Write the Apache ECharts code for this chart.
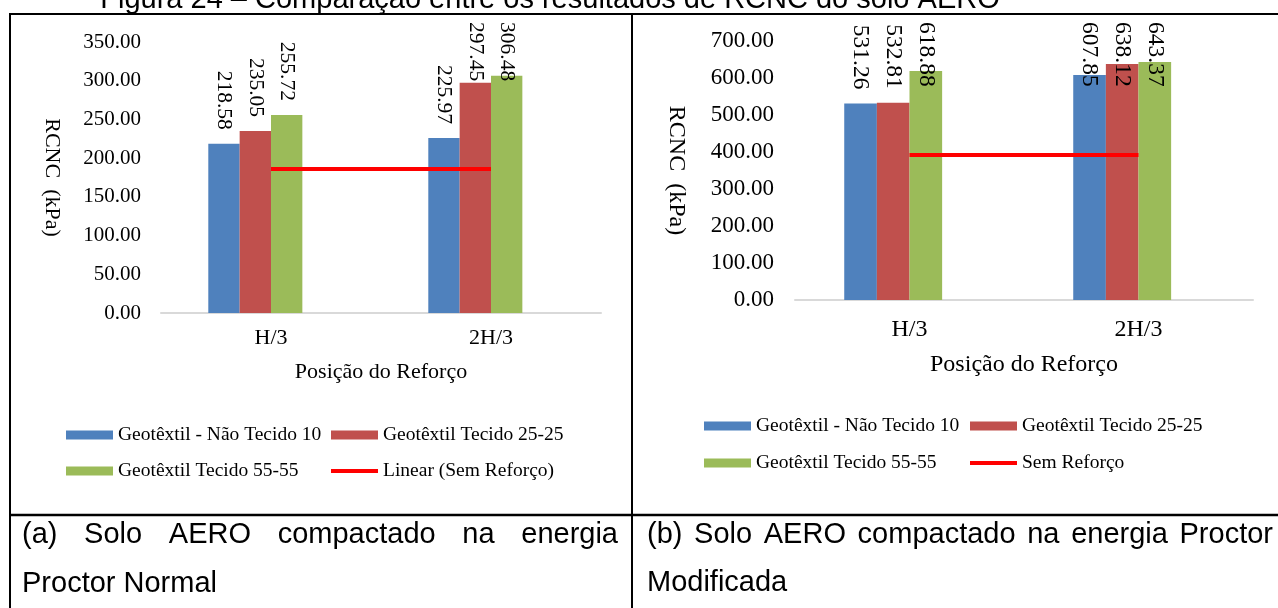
<!DOCTYPE html>
<html><head><meta charset="utf-8">
<script src="https://cdn.jsdelivr.net/npm/echarts@6/dist/echarts.min.js"></script>
<style>html,body{margin:0;padding:0;background:#fff;overflow:hidden}#c{width:1278px;height:608px}</style>
</head><body><div id="c"></div>
<script>
// ---------- data ----------
const categories = ['H/3', '2H/3'];
const seriesNames = ['Geotêxtil - Não Tecido 10', 'Geotêxtil Tecido 25-25', 'Geotêxtil Tecido 55-55'];
const normalNaoTecido10 = [218.58, 225.97];
const normalTecido2525 = [235.05, 297.45];
const normalTecido5555 = [255.72, 306.48];
const normalSemReforco = [186, 186];
const modNaoTecido10 = [531.26, 607.85];
const modTecido2525 = [532.81, 638.12];
const modTecido5555 = [618.88, 643.37];
const modSemReforco = [392, 392];
const lineNameA = 'Linear (Sem Reforço)';
const lineNameB = 'Sem Reforço';
const yAxisA = { min: 0, max: 350, interval: 50 };
const yAxisB = { min: 0, max: 700, interval: 100 };
const yName = 'RCNC  (kPa)';
const xName = 'Posição do Reforço';
const titleText = 'Figura 24 – Comparação entre os resultados de RCNC do solo AERO';
const captionA = ['(a) Solo AERO compactado na energia', 'Proctor Normal'];
const captionB = ['(b) Solo AERO compactado na energia Proctor', 'Modificada'];

// ---------- styling ----------
const colors = ['#4F81BD', '#C0504D', '#9BBB59'];
const SERIF = '"Liberation Serif", "Times New Roman", serif';
const SANS = '"Liberation Sans", Arial, sans-serif';
const LABEL_TOP = 22;

// keep rotated labels inside the chart area (label frame is rotated -90deg: local +x = screen down)
function capLayout(params) {
  const r = params.labelRect;
  if (r && r.y < LABEL_TOP) return { dx: LABEL_TOP - r.y };
  return {};
}

function makeBars(g, valueSets, fs) {
  const out = valueSets.map((vals, i) => ({
    type: 'bar', name: seriesNames[i], xAxisIndex: g, yAxisIndex: g,
    data: vals, barWidth: '14.25%', barGap: '0%',
    itemStyle: { color: colors[i] },
    label: {
      show: true, position: 'top', rotate: -90, align: 'right', verticalAlign: 'middle',
      distance: 14, fontFamily: SERIF, fontSize: fs, color: '#000',
      formatter: p => Number(p.value).toFixed(2)
    },
    labelLayout: capLayout,
    emphasis: { disabled: true }
  }));
  // empty 4th slot (as in the original Excel chart)
  out.push({
    type: 'bar', name: '__spacer' + g, xAxisIndex: g, yAxisIndex: g,
    data: categories.map(() => 0), barWidth: '14.25%', barGap: '0%',
    itemStyle: { color: 'rgba(0,0,0,0)' }, silent: true, label: { show: false }
  });
  return out;
}

function makeLine(g, name, vals) {
  return {
    type: 'line', name, xAxisIndex: g, yAxisIndex: g, data: vals,
    symbol: 'none', z: 5,
    lineStyle: { color: '#FF0000', width: 4 }, itemStyle: { color: '#FF0000' },
    emphasis: { disabled: true }
  };
}

function xAxis(g, fs, margin, gap) {
  return {
    type: 'category', gridIndex: g, data: categories,
    axisTick: { show: false },
    axisLine: { lineStyle: { color: '#D9D9D9', width: 2 } },
    axisLabel: { fontFamily: SERIF, fontSize: fs, color: '#000', margin },
    name: xName, nameLocation: 'middle', nameGap: gap,
    nameTextStyle: { fontFamily: SERIF, fontSize: fs, color: '#000' }
  };
}

function yAxis(g, cfg, fs, margin, gap) {
  return {
    type: 'value', gridIndex: g, min: cfg.min, max: cfg.max, interval: cfg.interval,
    axisLine: { show: false }, axisTick: { show: false }, splitLine: { show: false },
    axisLabel: { fontFamily: SERIF, fontSize: fs, color: '#000', margin, formatter: v => v.toFixed(2) },
    name: yName, nameLocation: 'middle', nameRotate: -90, nameGap: gap,
    nameTextStyle: { fontFamily: SERIF, fontSize: fs + 1, color: '#000' }
  };
}

function legend(left, top, gap, items) {
  return {
    orient: 'vertical', left, top, padding: 0, itemWidth: 47, itemHeight: 9, itemGap: gap,
    selectedMode: false, data: items,
    textStyle: { fontFamily: SERIF, fontSize: 19.5, color: '#000' }
  };
}
const lineLegendItem = name => ({ name, itemStyle: { opacity: 0 }, lineStyle: { width: 4, color: '#FF0000' } });

// ---------- document framing (text + table rules) ----------
const measureCtx = document.createElement('canvas').getContext('2d');
const CAP_FONT = '29px ' + SANS;
function textEl(str, x, y, font, align) {
  return {
    type: 'text', x, y, silent: true,
    style: { text: str, font, fill: '#000', textAlign: align || 'left', align: align || 'left',
             textVerticalAlign: 'middle', verticalAlign: 'middle' }
  };
}
function justified(line, x0, x1, y, font) {
  measureCtx.font = font;
  const words = line.split(' ');
  const w = words.map(s => measureCtx.measureText(s).width);
  const total = w.reduce((a, b) => a + b, 0);
  const gap = (x1 - x0 - total) / (words.length - 1);
  let x = x0;
  return words.map((s, i) => { const el = textEl(s, x, y, font); x += w[i] + gap; return el; });
}
function rule(x1, y1, x2, y2, lw) {
  return { type: 'line', silent: true, shape: { x1, y1, x2, y2 }, style: { stroke: '#000', lineWidth: lw } };
}

const graphics = [
  textEl(titleText, 550, 0, '29px ' + SANS, 'center'),
  rule(9, 14, 1278, 14, 2),
  rule(10, 14, 10, 608, 2),
  rule(632, 14, 632, 608, 2),
  rule(9, 515, 1278, 515, 2.5),
  ...justified(captionA[0], 22, 618, 535, CAP_FONT),
  textEl(captionA[1], 22, 584, CAP_FONT),
  ...justified(captionB[0], 647, 1273, 535, CAP_FONT),
  textEl(captionB[1], 647, 583, CAP_FONT)
];

const chart = echarts.init(document.getElementById('c'), null, { renderer: 'canvas' });
chart.setOption({
  animation: false,
  backgroundColor: '#fff',
  grid: [
    { left: 161, right: 677, top: 42, bottom: 295 },
    { left: 795, right: 25, top: 41, bottom: 308 }
  ],
  xAxis: [xAxis(0, 22, 14, 48), xAxis(1, 24, 18, 53)],
  yAxis: [yAxis(0, yAxisA, 21, 20, 98), yAxis(1, yAxisB, 23, 21, 107)],
  legend: [
    legend(66, 425, 16, [{ name: seriesNames[0], icon: 'rect' }, { name: seriesNames[2], icon: 'rect' }]),
    legend(329, 425, 16, [{ name: seriesNames[1], icon: 'rect' }, lineLegendItem(lineNameA)]),
    legend(704, 416, 17, [{ name: seriesNames[0], icon: 'rect' }, { name: seriesNames[2], icon: 'rect' }]),
    legend(968, 416, 17, [{ name: seriesNames[1], icon: 'rect' }, lineLegendItem(lineNameB)])
  ],
  series: [
    ...makeBars(0, [normalNaoTecido10, normalTecido2525, normalTecido5555], 21.5),
    makeLine(0, lineNameA, normalSemReforco),
    ...makeBars(1, [modNaoTecido10, modTecido2525, modTecido5555], 23.5),
    makeLine(1, lineNameB, modSemReforco)
  ],
  graphic: graphics
});
</script>
</body></html>
